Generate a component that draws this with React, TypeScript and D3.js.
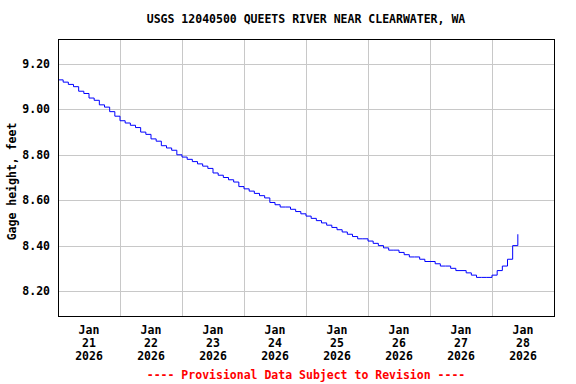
import React from "react";
import * as d3 from "d3";

const title = "USGS 12040500 QUEETS RIVER NEAR CLEARWATER, WA";
const yLabel = "Gage height, feet";
const footer = "---- Provisional Data Subject to Revision ----";

// gage height, feet, every 2 hours from Jan 20 2026 12:00
const startTime = Date.UTC(2026, 0, 20, 12);
const stepHours = 2;
const gageHeight = [
  9.13, 9.12, 9.11, 9.10, 9.08, 9.07, 9.05, 9.04, 9.02, 9.01, 8.99, 8.97,
  8.95, 8.94, 8.93, 8.92, 8.90, 8.89, 8.87, 8.86, 8.84, 8.83, 8.82, 8.80,
  8.79, 8.78, 8.77, 8.76, 8.75, 8.74, 8.72, 8.71, 8.70, 8.69, 8.68, 8.66,
  8.65, 8.64, 8.63, 8.62, 8.61, 8.59, 8.58, 8.57, 8.57, 8.56, 8.55, 8.54,
  8.53, 8.52, 8.51, 8.50, 8.49, 8.48, 8.47, 8.46, 8.45, 8.44, 8.43, 8.43,
  8.42, 8.41, 8.40, 8.39, 8.38, 8.38, 8.37, 8.36, 8.35, 8.35, 8.34, 8.33,
  8.33, 8.32, 8.31, 8.31, 8.30, 8.29, 8.29, 8.28, 8.27, 8.26, 8.26, 8.26,
  8.27, 8.29, 8.31, 8.34, 8.40, 8.45,
];

const yTicks = [8.2, 8.4, 8.6, 8.8, 9.0, 9.2];
const xTickMonths = ["Jan", "Jan", "Jan", "Jan", "Jan", "Jan", "Jan", "Jan"];
const xTickDays = ["21", "22", "23", "24", "25", "26", "27", "28"];
const xTickYears = ["2026", "2026", "2026", "2026", "2026", "2026", "2026", "2026"];

const W = 576;
const H = 384;
const left = 58;
const right = 554;
const top = 39;
const bottom = 316;
const font = "'DejaVu Sans Mono', monospace";
const fs = 11.5;

export default function App() {
  const x = d3
    .scaleUtc()
    .domain([new Date(Date.UTC(2026, 0, 20, 12)), new Date(Date.UTC(2026, 0, 28, 12))])
    .range([left, right]);
  const y = d3.scaleLinear().domain([8.09, 9.31]).range([bottom, top]);

  const data = gageHeight.map((v, i) => ({
    t: new Date(startTime + i * stepHours * 3600 * 1000),
    v,
  }));
  const line = d3
    .line<{ t: Date; v: number }>()
    .x((d) => x(d.t))
    .y((d) => y(d.v))
    .curve(d3.curveStepAfter);

  const dayTicks = xTickDays.map((_, i) => new Date(Date.UTC(2026, 0, 21 + i)));
  const gridTimes = d3.range(7).map((i) => new Date(Date.UTC(2026, 0, 21 + i, 12)));

  return (
    <div style={{ position: "absolute", left: 0, top: 0 }}>
      <svg width={W} height={H} style={{ display: "block", background: "#fff" }}>
        <rect x={0} y={0} width={W} height={H} fill="#fff" />
        <text
          x={(left + right) / 2}
          y={23}
          textAnchor="middle"
          fontFamily={font}
          fontWeight="bold"
          fontSize={fs}
        >
          {title}
        </text>
        {yTicks.map((v) => (
          <line
            key={"gy" + v}
            x1={left}
            x2={right}
            y1={Math.round(y(v)) + 0.5}
            y2={Math.round(y(v)) + 0.5}
            stroke="#c8c8c8"
          />
        ))}
        {gridTimes.map((t, i) => (
          <line
            key={"gx" + i}
            x1={Math.round(x(t)) + 0.5}
            x2={Math.round(x(t)) + 0.5}
            y1={top}
            y2={bottom}
            stroke="#c8c8c8"
          />
        ))}
        <path d={line(data) || ""} fill="none" stroke="#0000ff" strokeWidth={1} />
        <rect
          x={left + 0.5}
          y={top + 0.5}
          width={right - left}
          height={bottom - top}
          fill="none"
          stroke="#000"
          strokeWidth={1}
        />
        {yTicks.map((v) => (
          <text
            key={"ty" + v}
            x={50}
            y={y(v) + 4}
            textAnchor="end"
            fontFamily={font}
            fontWeight="bold"
            fontSize={fs}
          >
            {v.toFixed(2)}
          </text>
        ))}
        <text
          transform={`translate(16,${(top + bottom) / 2 + 4}) rotate(-90)`}
          textAnchor="middle"
          fontFamily={font}
          fontWeight="bold"
          fontSize={fs}
        >
          {yLabel}
        </text>
        {dayTicks.map((t, i) => (
          <g key={"tx" + i} fontFamily={font} fontWeight="bold" fontSize={fs} textAnchor="middle">
            <text x={x(t)} y={334}>{xTickMonths[i]}</text>
            <text x={x(t)} y={347}>{xTickDays[i]}</text>
            <text x={x(t)} y={360}>{xTickYears[i]}</text>
          </g>
        ))}
        <text
          x={(left + right) / 2}
          y={379}
          textAnchor="middle"
          fontFamily={font}
          fontWeight="bold"
          fontSize={fs}
          fill="#ff0000"
        >
          {footer}
        </text>
      </svg>
    </div>
  );
}
